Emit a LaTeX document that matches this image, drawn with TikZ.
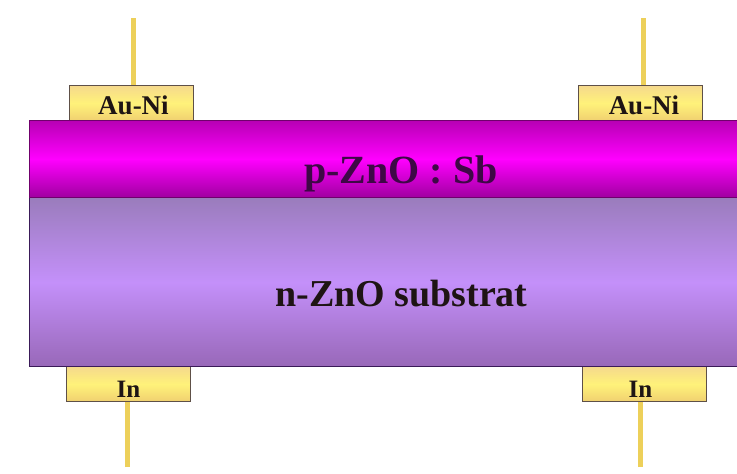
\documentclass[tikz,border=0pt]{standalone}
\usepackage{fontspec}
\setmainfont{Liberation Serif}
\definecolor{wirecol}{HTML}{EDD05A}
\definecolor{edgecol}{HTML}{3A1A58}
\definecolor{pedge}{HTML}{70006C}
\definecolor{contactedge}{HTML}{5E5048}
\definecolor{ptop}{HTML}{B800B4}
\definecolor{pmid}{HTML}{FF00FF}
\definecolor{pbot}{HTML}{A000A0}
\definecolor{ntop}{HTML}{9A7CBC}
\definecolor{nmid}{HTML}{C490FA}
\definecolor{nbot}{HTML}{9868B8}
\definecolor{ctop}{HTML}{F5D98C}
\definecolor{cmid}{HTML}{FFF27A}
\definecolor{cbot}{HTML}{F0D070}
\definecolor{labelcol}{HTML}{1E1414}
\definecolor{plabel}{HTML}{3E0846}
\tikzset{
  layer/.style={line width=1.2pt,inner sep=0pt,minimum width=708pt,anchor=north west},
  contact/.style={draw=contactedge,line width=1.4pt,inner sep=0pt,minimum width=124pt,minimum height=35pt,
    top color=ctop,bottom color=cbot,middle color=cmid,anchor=north west},
  wire/.style={wirecol,line width=5pt},
  biglabel/.style={inner sep=0pt,font=\fontsize{40}{40}\selectfont\bfseries},
  metal/.style={inner sep=0pt,text=labelcol,font=\fontsize{27}{27}\selectfont\bfseries}
}
\begin{document}
\begin{tikzpicture}[x=1pt,y=-1pt]
\useasboundingbox[fill=white] (0,0) rectangle (737,474);
\coordinate (wa) at (133,18);
\coordinate (wb) at (643,18);
\coordinate (wc) at (127,467);
\coordinate (wd) at (640,467);
\node[contact] (au1) at (69,85) {};
\node[contact] (au2) at (578,85) {};
\node[contact] (in1) at (66,366) {};
\node[contact] (in2) at (582,366) {};
\draw[wire] (wa) -- (wa |- au1.north);
\draw[wire] (wb) -- (wb |- au2.north);
\draw[wire] (wc) -- (wc |- in1.south);
\draw[wire] (wd) -- (wd |- in2.south);
\node[layer,draw=edgecol,minimum height=169pt,top color=ntop,bottom color=nbot,middle color=nmid] (n) at (29,197) {};
\node[layer,draw=pedge,minimum height=77pt,top color=ptop,bottom color=pbot,middle color=pmid] (p) at (29,120) {};
\node[biglabel,text=plabel] (pl) at (401,174) {p-ZnO : Sb};
\node[biglabel,text=labelcol,font=\fontsize{38}{38}\selectfont\bfseries] (nl) at (401.5,294) {n-ZnO substrat};
\node[metal] (t1) at (133.5,105) {Au-Ni};
\node[metal] (t2) at (644,105) {Au-Ni};
\node[metal,font=\fontsize{25}{25}\selectfont\bfseries] (t3) at (128.5,389) {In};
\node[metal,font=\fontsize{25}{25}\selectfont\bfseries] (t4) at (640.5,389) {In};
\end{tikzpicture}
\end{document}
